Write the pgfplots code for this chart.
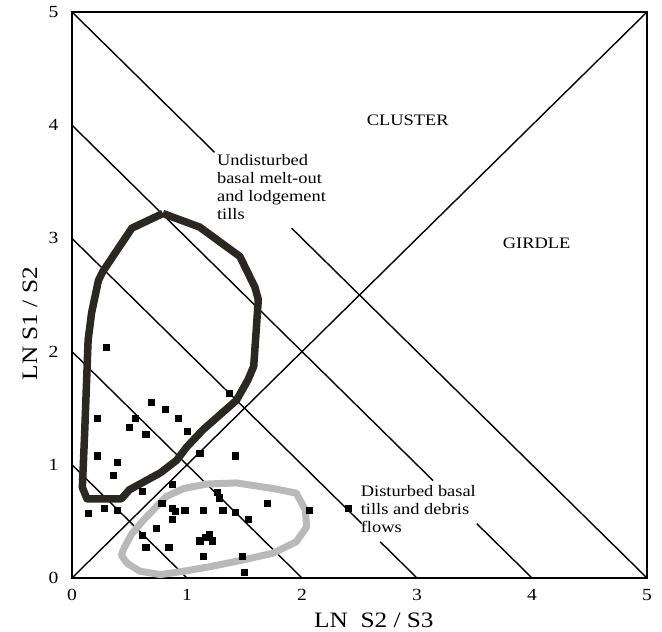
\documentclass[border=0pt]{standalone}
\usepackage{pgfplots}
\pgfplotsset{compat=1.18}
\usepackage{fontspec}
\setmainfont[FakeStretch=1.15]{Liberation Serif}
\definecolor{contourdark}{RGB}{43,40,34}
\definecolor{contourgray}{RGB}{185,185,185}
\begin{document}
\begin{tikzpicture}
\begin{axis}[
  scale only axis, width=575pt, height=566pt,
  xmin=0, xmax=5, ymin=0, ymax=5,
  xtick={0,1,2,3,4,5}, ytick={0,1,2,3,4,5},
  major tick length=0pt,
  axis line style={line width=2.2pt},
  /pgf/number format/assume math mode=true,
  ticklabel style={font=\fontsize{17}{17}\selectfont},
  xticklabel style={yshift=-8pt},
  yticklabel style={xshift=-10pt},
  xlabel={LN\ \ S2 / S3}, ylabel={LN S1 / S2},
  label style={font=\fontsize{22}{22}\selectfont},
  xlabel style={at={(axis description cs:0.525,-0.074)}, anchor=center},
  ylabel style={at={(axis description cs:-0.073,0.449)}, anchor=center},
  clip=false,
]
% guide lines
\addplot[black, line width=1.4pt] coordinates {(0,0) (5,5)};
\addplot[black, line width=1.4pt] coordinates {(0,1) (1,0)};
\addplot[black, line width=1.4pt] coordinates {(0,2) (2,0)};
\addplot[black, line width=1.4pt] coordinates {(0,3) (2.52,0.48)};
\addplot[black, line width=1.4pt] coordinates {(2.68,0.32) (3,0)};
\addplot[black, line width=1.4pt] coordinates {(0,4) (3.14,0.86)};
\addplot[black, line width=1.4pt] coordinates {(3.52,0.48) (4,0)};
\addplot[black, line width=1.4pt] coordinates {(0,5) (1.24,3.76)};
\addplot[black, line width=1.4pt] coordinates {(1.91,3.09) (5,0)};
% gray contour (disturbed tills)
\addplot[contourgray, line width=7pt, line join=round] coordinates {
(0.45,0.26) (0.52,0.39) (0.62,0.51) (0.82,0.72) (0.97,0.79) (1.17,0.83)
(1.43,0.84) (1.75,0.79) (1.95,0.75) (2.03,0.60) (2.04,0.45) (1.95,0.32)
(1.75,0.22) (1.49,0.16) (1.20,0.10) (0.97,0.06) (0.77,0.03) (0.59,0.06)
(0.48,0.13) (0.43,0.20) (0.45,0.26)};
% dark contour (undisturbed tills)
\addplot[contourdark, line width=7.5pt, line join=round] coordinates {
(0.79,3.22) (1.11,3.10) (1.46,2.84) (1.59,2.57) (1.62,2.46) (1.60,2.16)
(1.58,1.87) (1.53,1.75) (1.43,1.57) (1.14,1.31) (1.00,1.16) (0.91,1.04)
(0.77,0.93) (0.50,0.78) (0.43,0.70) (0.13,0.70) (0.09,0.80) (0.11,1.28)
(0.14,2.10) (0.17,2.34) (0.23,2.63) (0.27,2.71) (0.52,3.09) (0.79,3.22)};
% data points
\addplot[only marks, mark=square*, mark size=3.1pt, black] coordinates {
(0.30,2.04) (0.69,1.55) (0.81,1.49) (0.92,1.41) (1.00,1.30) (0.22,1.41)
(0.55,1.41) (0.50,1.33) (0.64,1.27) (0.22,1.08) (1.37,1.63) (1.11,1.10)
(1.42,1.08) (0.39,1.02) (0.36,0.91) (0.61,0.77) (0.87,0.83) (0.14,0.57)
(0.28,0.62) (0.39,0.60) (0.78,0.66) (0.87,0.62) (0.90,0.59) (0.98,0.60)
(0.87,0.52) (0.73,0.44) (0.61,0.38) (0.64,0.27) (0.84,0.27) (1.26,0.76)
(1.28,0.71) (1.70,0.66) (2.06,0.60) (1.14,0.60) (1.31,0.60) (1.42,0.58)
(1.53,0.52) (1.11,0.33) (1.16,0.36) (1.19,0.39) (1.22,0.33) (1.14,0.19)
(1.48,0.19) (1.50,0.05) (2.40,0.62)};
% annotations
\node[anchor=center, inner sep=0pt, font=\fontsize{16}{18}\selectfont] at (axis cs:2.92,4.04) {CLUSTER};
\node[anchor=center, inner sep=0pt, font=\fontsize{16}{18}\selectfont] at (axis cs:4.04,2.96) {GIRDLE};
\node[anchor=north west, inner sep=0pt, align=left, font=\fontsize{16}{18}\selectfont] at (axis cs:1.26,3.74) {Undisturbed\\basal melt-out\\and lodgement\\tills};
\node[anchor=north west, inner sep=0pt, align=left, font=\fontsize{16}{18}\selectfont] at (axis cs:2.51,0.82) {Disturbed basal\\tills and debris\\flows};
\coordinate (ll) at (rel axis cs:0,0);
\coordinate (ur) at (rel axis cs:1,1);
\end{axis}
\pgfresetboundingbox
\path ([shift={(-72pt,-54pt)}]ll) rectangle ([shift={(15pt,12pt)}]ur);
\end{tikzpicture}
\end{document}
